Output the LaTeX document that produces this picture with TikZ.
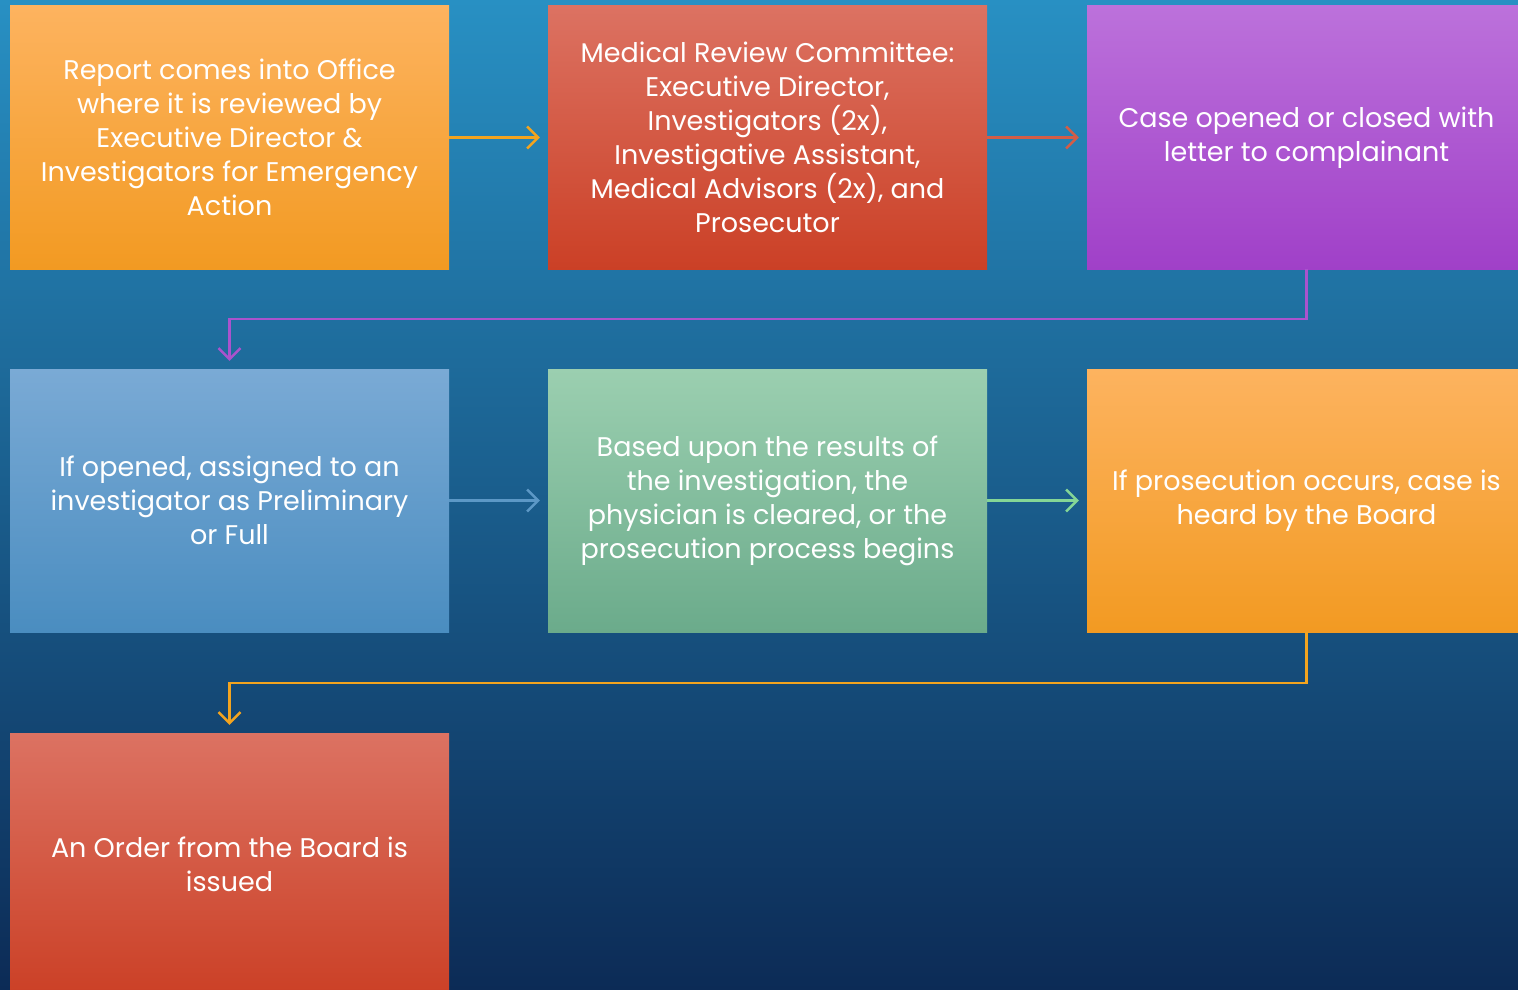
\documentclass[tikz,border=0pt]{standalone}
\usepackage{fontspec}
\setmainfont{Poppins}
\usetikzlibrary{arrows.meta}

\definecolor{fondHaut}{HTML}{2890C3}
\definecolor{fondBas}{HTML}{0C2B56}
\definecolor{orangeHaut}{HTML}{FDB35F}
\definecolor{orangeBas}{HTML}{F29A22}
\definecolor{rougeHaut}{HTML}{DC7262}
\definecolor{rougeBas}{HTML}{CB4026}
\definecolor{violetHaut}{HTML}{BC71DB}
\definecolor{violetBas}{HTML}{A040C8}
\definecolor{bleuHaut}{HTML}{7AAAD5}
\definecolor{bleuBas}{HTML}{4A8DC0}
\definecolor{vertHaut}{HTML}{9BCFB0}
\definecolor{vertBas}{HTML}{6BAB8B}

\tikzset{
	boite/.style={rectangle, minimum width=439pt, minimum height=263pt, inner sep=0pt,
		text=white, align=center, font=\fontsize{27}{34}\selectfont},
	fleche/.style={-{Straight Barb[length=11pt,width=22pt]}, line width=2.5pt, draw=#1, shorten >=8pt},
}

\begin{document}
\begin{tikzpicture}[x=1pt,y=1pt]
		\useasboundingbox (0,0) rectangle (1518,-990);
		\clip (0,0) rectangle (1518,-990);
		\shade[top color=fondHaut, bottom color=fondBas] (0,0) rectangle (1518,-990);

		%\node (nom node) at(x,y) [options] {affichage} ;
		\node (node 1) at(229.5,-137.5) [boite,top color=orangeHaut,bottom color=orangeBas] {Report comes into Office\\where it is reviewed by\\Executive Director \&\\Investigators for Emergency\\Action} ;
		\node (node 2) at(767.5,-137.5) [boite,top color=rougeHaut,bottom color=rougeBas] {Medical Review Committee:\\Executive Director,\\Investigators (2x),\\Investigative Assistant,\\Medical Advisors (2x), and\\Prosecutor} ;
		\node (node 3) at(1306.5,-137.5) [boite,top color=violetHaut,bottom color=violetBas] {Case opened or closed with\\letter to complainant} ;
		\node (node 4) at(229.5,-500.5) [boite,top color=bleuHaut,bottom color=bleuBas] {If opened, assigned to an\\investigator as Preliminary\\or Full} ;
		\node (node 5) at(767.5,-500.5) [boite,top color=vertHaut,bottom color=vertBas] {Based upon the results of\\the investigation, the\\physician is cleared, or the\\prosecution process begins} ;
		\node (node 6) at(1306.5,-500.5) [boite,top color=orangeHaut,bottom color=orangeBas] {If prosecution occurs, case is\\heard by the Board} ;
		\node (node 7) at(229.5,-864.5) [boite,top color=rougeHaut,bottom color=rougeBas] {An Order from the Board is\\issued} ;

		%\path (nom node A) edge[options] (nom node B);
		\path
		(node 1) edge[fleche=orangeBas!90!yellow] (node 2)
		(node 2) edge[fleche=rougeBas!85!white] (node 3)
		(node 4) edge[fleche=bleuBas!90!white] (node 5)
		(node 5) edge[fleche=vertHaut!85!green] (node 6)
		;
		\draw[fleche=violetBas!90!white] (node 3.south) -- ++(0,-50) -| (node 4.north);
		\draw[fleche=orangeBas!90!yellow] (node 6.south) -- ++(0,-51) -| (node 7.north);
	\end{tikzpicture}
\end{document}
